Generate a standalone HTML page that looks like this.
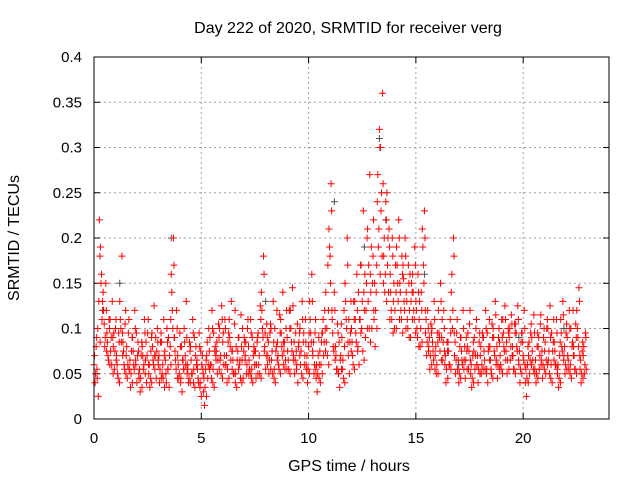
<!DOCTYPE html>
<html><head><meta charset="utf-8"><style>
html,body{margin:0;padding:0;background:#fff;}
svg{display:block;font-family:"Liberation Sans",sans-serif;}
</style></head><body>
<svg id="chart" width="640" height="480" viewBox="0 0 640 480">
<text x="348" y="33" font-size="16" text-anchor="middle" fill="#000">Day 222 of 2020, SRMTID for receiver verg</text>
<text transform="translate(19,238) rotate(-90)" font-size="16" text-anchor="middle" fill="#000">SRMTID / TECUs</text>
<text x="349" y="471" font-size="16" text-anchor="middle" fill="#000">GPS time / hours</text>
<g id="grid"></g>
<g id="ticks"></g>
<g id="marks"></g>
<rect x="94" y="57" width="515" height="362" fill="none" stroke="#000" stroke-width="1"/>
</svg>
<script>
const xTicks=[0,5,10,15,20];
const yTicks=[0,0.05,0.1,0.15,0.2,0.25,0.3,0.35,0.4];
const yTickLabels=["0","0.05","0.1","0.15","0.2","0.25","0.3","0.35","0.4"];
const timeStep=0.15;
const seriesA=[60,45,190,120,95,110,80,70,130,85,70,55,90,60,45,80,65,50,95,70,60,85,75,55,160,90,70,45,100,60,80,55,65,40,30,70,90,55,75,100,85,60,110,75,50,90,65,70,80,55,60,95,140,80,70,100,55,85,110,75,90,120,70,60,100,85,55,130,70,45,60,95,140,210,110,80,50,90,150,70,100,130,80,170,120,210,140,110,240,300,180,250,160,130,190,150,170,140,120,160,130,110,210,95,80,100,70,120,90,60,85,140,70,55,90,65,80,50,75,60,70,90,55,80,100,65,85,110,75,90,80,105,60,95,40,70,90,55,80,65,75,100,60,85,50,110,70,90,60,80,120,55,70];
const seriesB=[40,25,160,80,70,90,55,50,100,60,45,35,60,40,30,55,40,35,65,45,40,60,50,35,120,65,45,30,70,40,50,35,45,25,15,45,60,35,50,70,60,40,80,50,35,65,45,50,55,40,45,70,100,55,50,75,40,60,80,55,65,85,50,40,75,60,40,95,50,30,40,70,100,180,80,55,35,65,110,50,70,95,60,130,90,170,100,80,190,250,140,200,120,100,150,120,130,110,90,120,100,80,170,70,55,75,50,90,65,40,60,100,50,40,65,45,55,35,55,40,50,65,40,55,75,45,60,80,50,65,55,80,40,70,25,50,65,40,55,45,50,75,40,60,35,80,50,65,45,55,90,40,50];
const seriesC=[80,220,130,150,110,130,100,95,180,105,95,75,120,85,70,110,95,75,125,100,85,110,100,80,200,120,95,65,130,85,110,80,95,70,55,100,120,80,105,125,110,85,130,105,75,115,90,100,110,80,85,125,180,105,95,130,80,115,140,100,120,145,95,85,130,110,80,160,95,70,85,120,170,260,140,105,70,120,200,95,130,160,110,230,150,270,180,140,320,360,240,210,200,170,220,180,200,170,150,190,160,140,230,120,105,130,95,150,120,85,110,200,95,80,120,90,105,70,100,85,95,120,80,105,130,90,110,125,100,115,105,125,85,120,60,95,115,80,105,90,100,125,85,110,70,130,95,120,85,105,145,75,95];
const seriesD=[70,100,150,105,85,75,95,60,110,75,80,65,75,95,55,70,85,60,80,90,70,50,65,90,140,75,60,80,85,55,65,90,55,75,45,85,60,95,85,65,95,70,90,65,80,60,100,85,65,90,75,60,120,95,85,65,100,70,95,85,75,100,85,105,60,95,70,110,85,60,75,110,85,190,95,70,85,55,130,110,85,110,140,100,160,130,190,150,270,230,200,170,140,150,170,140,155,130,160,140,120,130,190,110,90,85,80,95,110,70,75,160,85,65,75,80,95,60,90,70,80,75,95,65,90,80,70,95,85,100,70,95,75,85,55,85,75,65,90,75,85,65,95,75,60,95,80,70,100,70,100,65,80];
const seriesE=[50,130,110,90,65,60,75,45,85,55,60,50,55,70,45,60,70,45,60,75,55,45,40,70,100,55,50,65,60,45,50,70,40,60,35,60,45,75,65,50,70,55,65,50,65,45,75,60,50,70,60,50,90,70,65,50,75,55,70,65,55,75,65,80,50,70,55,85,60,50,60,85,70,150,75,55,65,45,100,85,60,85,110,75,120,100,150,120,210,180,160,140,110,120,130,110,120,100,130,110,90,100,150,85,70,65,60,75,85,55,60,120,65,50,60,65,75,45,70,55,60,55,75,50,70,60,55,75,65,80,55,75,55,65,45,65,55,50,70,60,65,50,75,60,45,75,60,55,80,55,80,50,60];
const seriesF=[90,180,140,120,100,90,110,85,95,120,110,90,100,75,85,95,110,90,70,85,95,70,85,110,170,100,80,55,90,75,95,60,80,55,65,75,100,70,90,110,100,95,75,120,90,80,85,110,95,75,90,110,160,90,105,85,120,95,85,120,100,125,75,95,110,85,95,130,110,90,95,100,120,230,120,95,105,80,170,130,110,120,170,140,200,160,220,170,300,260,220,190,180,140,200,160,180,150,140,170,140,120,200,100,95,110,85,130,100,75,95,180,110,90,100,75,120,85,110,95,90,100,110,90,115,100,90,110,95,105,95,110,95,100,80,105,95,95,115,100,110,90,110,95,85,115,105,100,120,90,130,85,90];
const seriesG=[55,85,120,75,60,50,65,40,70,50,55,40,65,50,35,50,60,40,55,65,45,35,55,60,90,45,40,55,50,40,40,60,35,50,25,55,40,65,55,45,60,45,55,40,55,40,65,50,45,60,50,45,75,60,55,45,65,50,60,55,50,65,55,70,45,60,50,75,55,45,50,75,60,120,65,50,55,40,85,75,55,75,95,65,100,85,120,100,160,150,130,110,95,100,110,95,100,90,110,95,80,85,120,75,60,55,50,65,75,45,55,95,55,45,55,55,65,40,60,50,55,50,65,45,60,55,50,65,55,70,50,65,50,60,40,60,50,45,60,55,60,45,65,55,40,65,55,50,70,50,70,45,55];
const grayTimes=[0.4,1.2,3.6,8.0,11.2,12.6,13.3,13.6,15.4,17.0,19.8,21.9];
const grayValues=[0.12,0.15,0.2,0.13,0.24,0.19,0.31,0.22,0.16,0.06,0.09,0.1];

const X0=94,X1=609,Y0=419,Y1=57;
function xs(t){return X0+(t/24)*(X1-X0);}
function ys(v){return Y0-(v/0.4)*(Y0-Y1);}
const NS="http://www.w3.org/2000/svg";
const grid=document.getElementById('grid'),ticks=document.getElementById('ticks'),marks=document.getElementById('marks');
function mk(tag,attrs,parent){const e=document.createElementNS(NS,tag);for(const k in attrs)e.setAttribute(k,attrs[k]);parent.appendChild(e);return e;}
yTicks.forEach((v,i)=>{
  const y=ys(v);
  if(i>0&&i<yTicks.length-1){const g=mk('line',{x1:X0,x2:X1,y1:y,y2:y,stroke:'#a0a0a0','stroke-dasharray':'2,3'},grid);
  
  }
  mk('line',{x1:X0,x2:X0+6,y1:y,y2:y,stroke:'#000'},ticks);
  mk('line',{x1:X1,x2:X1-6,y1:y,y2:y,stroke:'#000'},ticks);
  const t=mk('text',{x:82,y:y+5,'font-size':15,'text-anchor':'end',fill:'#000'},ticks);
  t.textContent=yTickLabels[i];
  
  
});
xTicks.forEach((v,i)=>{
  const x=xs(v);
  if(i>0){const g=mk('line',{x1:x,x2:x,y1:Y0,y2:Y1,stroke:'#a0a0a0','stroke-dasharray':'2,3'},grid);
  
  }
  mk('line',{x1:x,x2:x,y1:Y0,y2:Y0-6,stroke:'#000'},ticks);
  mk('line',{x1:x,x2:x,y1:Y1,y2:Y1+6,stroke:'#000'},ticks);
  const t=mk('text',{x:x,y:443,'font-size':15,'text-anchor':'middle',fill:'#000'},ticks);
  t.textContent=String(v);
  
  
});
function plus(t,v,color,name){
  const x=xs(t),y=ys(v);
  const p=mk('path',{d:`M${x-3.5} ${y}H${x+3.5}M${x} ${y-3.5}V${y+3.5}`,stroke:color,'stroke-width':1,fill:'none'},marks);
  
  
}
grayTimes.forEach((t,i)=>plus(t,grayValues[i],'#505050','gray-point'));
[[seriesA,0],[seriesD,0.025],[seriesB,0.05],[seriesE,0.075],[seriesC,0.1],[seriesF,0.125],[seriesG,0.1375]].forEach(([arr,off])=>{
  arr.forEach((v,i)=>plus(i*timeStep+off,v/1000,'#ff0000','red-point'));
});
</script>
</body></html>
